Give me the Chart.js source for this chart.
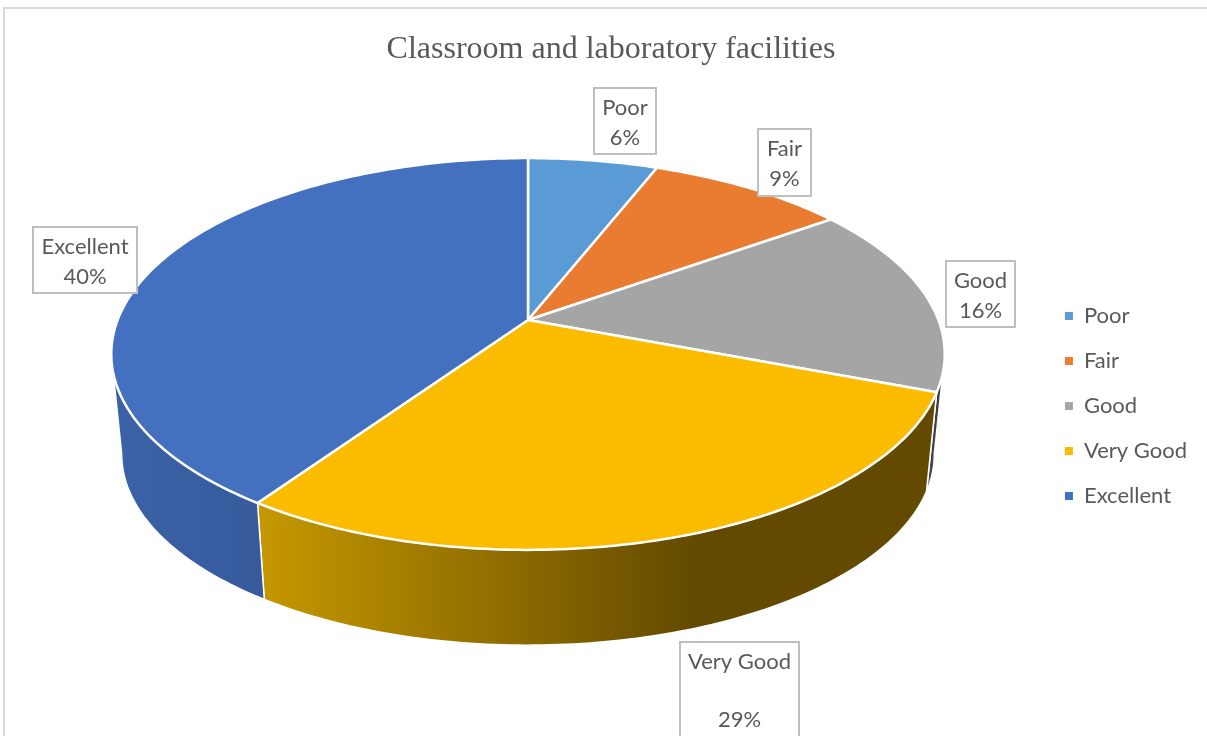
<!DOCTYPE html>
<html>
<head>
<meta charset="utf-8">
<title>Classroom and laboratory facilities</title>
<script src="https://cdn.jsdelivr.net/npm/chart.js@4/dist/chart.umd.js"></script>
<style>
    html, body { margin: 0; padding: 0; width: 1207px; height: 736px; overflow: hidden; background: #fff; }
    #frame { position: absolute; left: 3px; top: 7px; width: 1214px; height: 794px; border: 2px solid #d9d9d9; }
    canvas { display: block; }
</style>
</head>
<body>
<div id="frame"><canvas id="plot-data" width="1214" height="794"></canvas></div>
<script>
const chartTitle = 'Classroom and laboratory facilities';
const categories = ['Poor', 'Fair', 'Good', 'Very Good', 'Excellent'];
const shares = [5.95, 9.15, 15.7, 28.75, 40.45];
const sliceColors = ['#5b9bd5', '#ea7c31', '#a5a5a5', '#fbbc00', '#4371c0'];

// side wall shading, left to right
const wallFrom = ['#36607f', '#8a481c', '#4a4a4a', '#c49700', '#3b62a6'];
const wallTo = ['#36607f', '#8a481c', '#333333', '#634a00', '#365a9c'];
const wallShadeLeft = [0, 0, 925, 262, 115];
const wallShadeRight = [1, 1, 940, 690, 262];

// label boxes in canvas pixels: left, top, width, height, line gap
const labelBoxes = [
    [589, 79, 62, 66, 30],
    [753, 120, 53, 67, 30],
    [941, 252, 69, 66, 30],
    [675, 633, 119, 140, 58],
    [28, 218, 104, 66, 30]
];

const textGrey = '#595959';
const labelFont = '22px Lato';

// perspective of the disc
const tilt = 0.1735;
const stretchX = 2.16;
const wallDrop = 101;
const wallScale = 0.975;
const wallFirst = 10 * Math.PI / 180;
const wallLast = 170 * Math.PI / 180;

function project(el, angle, low) {
    const w = 1 - tilt * Math.sin(angle);
    let px = stretchX * el.outerRadius * Math.cos(angle) / w;
    let py = el.outerRadius * Math.sin(angle) / w;
    if (low) {
        px = px * wallScale;
        py = py * wallScale + wallDrop;
    }
    return { x: el.x + px, y: el.y + py };
}

function traceArc(ctx, el, from, to, low) {
    const steps = Math.max(2, Math.ceil(Math.abs(to - from) * 60));
    for (let s = 0; s <= steps; s++) {
        const p = project(el, from + (to - from) * s / steps, low);
        ctx.lineTo(p.x, p.y);
    }
}

class Arc3D extends Chart.ArcElement {
    static id = 'arc3d';
    draw(ctx) {
        ctx.save();
        ctx.beginPath();
        ctx.moveTo(this.x, this.y);
        traceArc(ctx, this, this.startAngle, this.endAngle, false);
        ctx.closePath();
        ctx.fillStyle = this.options.backgroundColor;
        ctx.fill();
        ctx.strokeStyle = '#fff';
        ctx.lineWidth = 2.5;
        ctx.lineJoin = 'round';
        ctx.stroke();
        ctx.restore();
    }
}

class Pie3D extends Chart.PieController {
    static id = 'pie3d';
    static defaults = { ...Chart.PieController.defaults, dataElementType: 'arc3d' };
    static overrides = Chart.PieController.overrides;
}

Chart.register(Arc3D, Pie3D);

const sideWalls = {
    id: 'sideWalls',
    beforeDatasetsDraw(chart) {
        const ctx = chart.ctx;
        chart.getDatasetMeta(0).data.forEach(function(el, i) {
            const from = Math.max(el.startAngle, wallFirst);
            const to = Math.min(el.endAngle, wallLast);
            if (to <= from) {
                return;
            }
            const shade = ctx.createLinearGradient(wallShadeLeft[i], 0, wallShadeRight[i], 0);
            shade.addColorStop(0, wallFrom[i]);
            shade.addColorStop(1, wallTo[i]);
            ctx.save();
            ctx.beginPath();
            const first = project(el, from, false);
            ctx.moveTo(first.x, first.y);
            traceArc(ctx, el, from, to, false);
            traceArc(ctx, el, to, from, true);
            ctx.closePath();
            ctx.fillStyle = shade;
            ctx.fill();
            ctx.strokeStyle = '#fff';
            ctx.lineWidth = 1.5;
            ctx.stroke();
            ctx.restore();
        });
    }
};

const boxLabels = {
    id: 'boxLabels',
    afterDatasetsDraw(chart) {
        const ctx = chart.ctx;
        const total = shares.reduce((a, b) => a + b, 0);
        ctx.save();
        ctx.font = labelFont;
        ctx.textAlign = 'center';
        ctx.textBaseline = 'middle';
        categories.forEach(function(name, i) {
            const [left, top, w, h, gap] = labelBoxes[i];
            ctx.fillStyle = '#fff';
            ctx.fillRect(left, top, w, h);
            ctx.strokeStyle = '#bfbfbf';
            ctx.lineWidth = 2;
            ctx.strokeRect(left, top, w, h);
            ctx.fillStyle = textGrey;
            ctx.fillText(name, left + w / 2, top + 20);
            ctx.fillText(Math.round(shares[i] / total * 100) + '%', left + w / 2, top + 20 + gap);
        });
        ctx.restore();
    }
};

// keeps the disc where it sits in the picture, whatever room the legend takes
const fixedArea = {
    id: 'fixedArea',
    afterLayout(chart) {
        Object.assign(chart.chartArea, { left: 333, right: 713, top: 121, bottom: 501, width: 380, height: 380 });
    }
};

new Chart(document.getElementById('plot-data').getContext('2d'), {
    type: 'pie3d',
    data: {
        labels: categories,
        datasets: [{
            data: shares,
            backgroundColor: sliceColors,
            borderWidth: 0,
            clip: false
        }]
    },
    options: {
        responsive: false,
        animation: false,
        layout: { padding: { left: 20, right: 22 } },
        plugins: {
            tooltip: { enabled: false },
            title: {
                display: true,
                text: chartTitle,
                color: textGrey,
                font: { family: '"Liberation Serif"', size: 32, weight: 'normal' },
                padding: { top: 21, bottom: 10 }
            },
            legend: {
                position: 'right',
                labels: {
                    color: textGrey,
                    font: { family: 'Lato', size: 22 },
                    boxWidth: 8,
                    boxHeight: 8,
                    padding: 23
                }
            }
        }
    },
    plugins: [sideWalls, boxLabels, fixedArea]
});
</script>
</body>
</html>
